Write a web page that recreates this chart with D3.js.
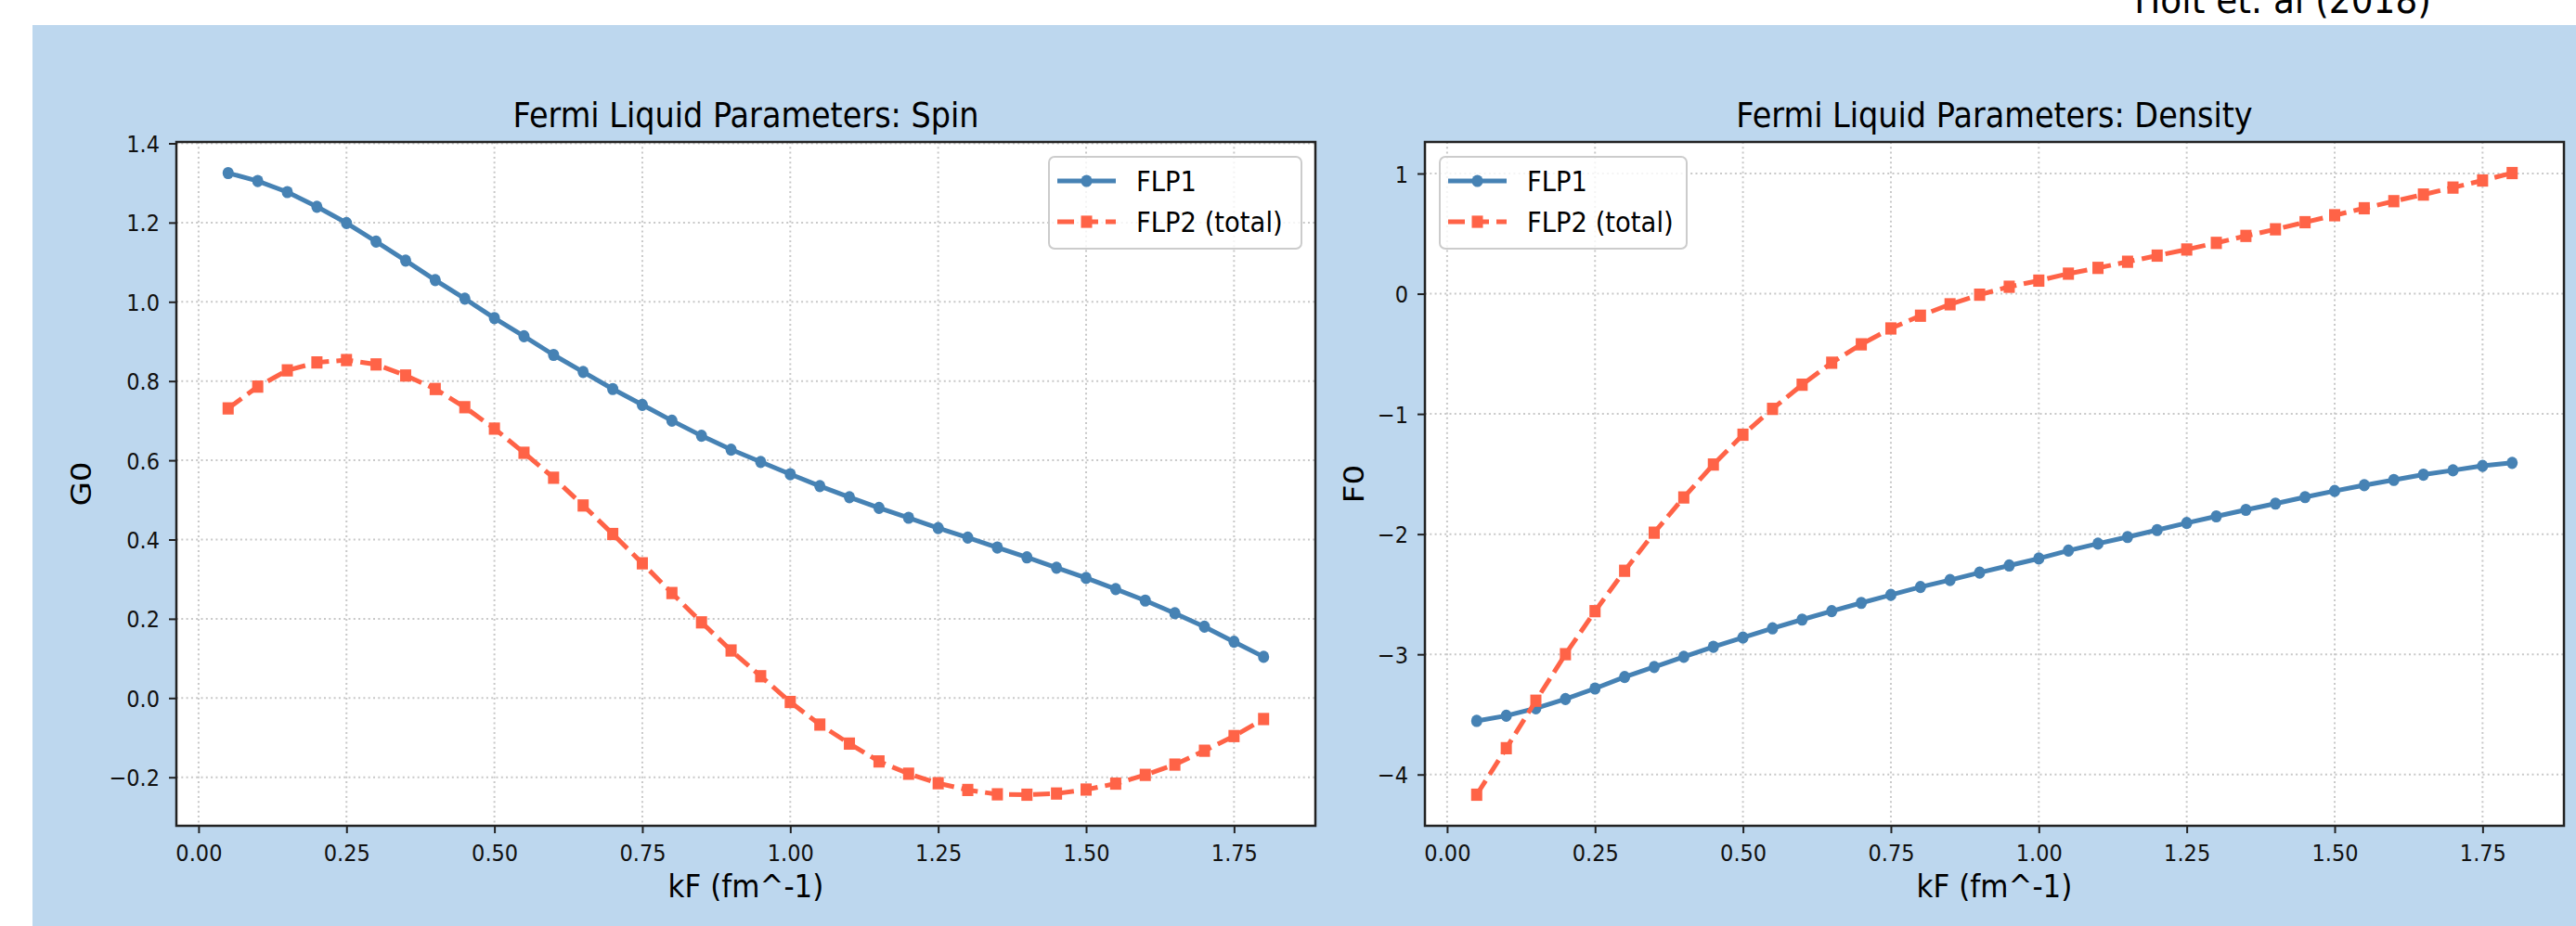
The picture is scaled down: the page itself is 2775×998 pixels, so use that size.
<!DOCTYPE html>
<html>
<head>
<meta charset="utf-8">
<script src="https://cdn.jsdelivr.net/npm/d3@7"></script>
<style>
  body { margin: 0; background: #fff; }
  svg { display: block; font-family: 'DejaVu Sans', sans-serif; }
</style>
</head>
<body>
<div id="chart"></div>
<script>
/* global d3 */

// kF grid (fm^-1)
const kF = [0.05, 0.10, 0.15, 0.20, 0.25, 0.30, 0.35, 0.40, 0.45, 0.50,
  0.55, 0.60, 0.65, 0.70, 0.75, 0.80, 0.85, 0.90, 0.95, 1.00,
  1.05, 1.10, 1.15, 1.20, 1.25, 1.30, 1.35, 1.40, 1.45, 1.50,
  1.55, 1.60, 1.65, 1.70, 1.75, 1.80]

// Spin channel G0
const spinFLP1 = [1.325, 1.305, 1.277, 1.240, 1.199, 1.152, 1.104, 1.055, 1.008, 0.959,
  0.913, 0.866, 0.823, 0.780, 0.740, 0.700, 0.662, 0.627, 0.596, 0.565,
  0.535, 0.507, 0.480, 0.455, 0.429, 0.405, 0.380, 0.355, 0.329, 0.303,
  0.275, 0.246, 0.214, 0.180, 0.142, 0.104]
const spinFLP2 = [0.731, 0.786, 0.827, 0.847, 0.853, 0.842, 0.814, 0.780, 0.734, 0.680,
  0.619, 0.556, 0.486, 0.414, 0.340, 0.265, 0.191, 0.120, 0.055, -0.010,
  -0.067, -0.115, -0.160, -0.191, -0.215, -0.232, -0.243, -0.244, -0.241, -0.231,
  -0.216, -0.194, -0.168, -0.133, -0.096, -0.053]

// Density channel F0
const densFLP1 = [-3.554, -3.511, -3.449, -3.372, -3.284, -3.189, -3.105, -3.021, -2.937, -2.861,
  -2.784, -2.711, -2.641, -2.572, -2.506, -2.440, -2.382, -2.320, -2.261, -2.203,
  -2.137, -2.079, -2.024, -1.966, -1.907, -1.852, -1.798, -1.746, -1.692, -1.641,
  -1.593, -1.549, -1.505, -1.469, -1.432, -1.407]
const densFLP2 = [-4.168, -3.781, -3.386, -2.999, -2.641, -2.305, -1.988, -1.695, -1.421, -1.173,
  -0.958, -0.757, -0.574, -0.421, -0.289, -0.183, -0.088, -0.008, 0.058, 0.109,
  0.167, 0.215, 0.266, 0.317, 0.368, 0.423, 0.481, 0.536, 0.595, 0.653,
  0.711, 0.770, 0.825, 0.883, 0.942, 1.004]

// tick labels
const xTicks = [0, 0.25, 0.5, 0.75, 1, 1.25, 1.5, 1.75]
const spinTicks = [-0.2, 0, 0.2, 0.4, 0.6, 0.8, 1.0, 1.2, 1.4]
const densTicks = [-4, -3, -2, -1, 0, 1]
const seriesNames = ['FLP1', 'FLP2 (total)']

// Our canvas
const width = 2775,
  height = 998
const plotTop = 153,
  plotBottom = 890,
  plotW = 1227
const sy = 1.1 // the picture is slightly stretched vertically

const blue = '#4682b4',
  red = '#ff6347'
const lineW = 5,
  dash = '18,8',
  mr = 6

let svg = d3.select('#chart')
  .append('svg')
  .attr('width', width)
  .attr('height', height)

svg.append('rect')
  .attr('x', 35).attr('y', 27)
  .attr('width', width - 35).attr('height', height - 27)
  .attr('fill', '#bdd7ee')

svg.append('text')
  .attr('transform', `translate(2459,14) scale(1,${sy})`)
  .attr('text-anchor', 'middle')
  .style('font-size', '37.5px')
  .text('Holt et. al (2018)')

const panels = [
  { title: 'Fermi Liquid Parameters: Spin', ylabel: 'G0', left: 190, a: spinFLP1, b: spinFLP2,
    yTicks: spinTicks, fmt: d3.format('.1f'), legend: 'right', labelX: 87 },
  { title: 'Fermi Liquid Parameters: Density', ylabel: 'F0', left: 1535, a: densFLP1, b: densFLP2,
    yTicks: densTicks, fmt: d3.format('d'), legend: 'left', labelX: 1458 }
]

// matplotlib-ish 5% margins
const padded = (ext) => {
  const p = (ext[1] - ext[0]) * 0.05
  return [ext[0] - p, ext[1] + p]
}

let drawPanel = (p) => {
  const x = d3.scaleLinear()
    .domain(padded(d3.extent(kF)))
    .range([p.left, p.left + plotW])
  const y = d3.scaleLinear()
    .domain(padded(d3.extent(p.a.concat(p.b))))
    .range([plotBottom, plotTop])

  const g = svg.append('g')

  g.append('rect')
    .attr('x', p.left).attr('y', plotTop)
    .attr('width', plotW).attr('height', plotBottom - plotTop)
    .attr('fill', '#fff')

  // grid
  g.selectAll('.vgrid')
    .data(xTicks)
    .enter()
    .append('line')
    .attr('x1', d => x(d)).attr('x2', d => x(d))
    .attr('y1', plotTop).attr('y2', plotBottom)
    .attr('stroke', '#c8c8c8').attr('stroke-width', 2)
    .attr('stroke-dasharray', '2,3.3')
  g.selectAll('.hgrid')
    .data(p.yTicks)
    .enter()
    .append('line')
    .attr('x1', p.left).attr('x2', p.left + plotW)
    .attr('y1', d => y(d)).attr('y2', d => y(d))
    .attr('stroke', '#c8c8c8').attr('stroke-width', 2)
    .attr('stroke-dasharray', '2,3.3')

  const line = d3.line()
    .x((d, i) => x(kF[i]))
    .y(d => y(d))

  g.append('path')
    .datum(p.a)
    .attr('d', line)
    .attr('fill', 'none').attr('stroke', blue).attr('stroke-width', lineW)
    .attr('stroke-linejoin', 'round')
  g.selectAll('.dotA')
    .data(p.a)
    .enter()
    .append('ellipse')
    .attr('cx', (d, i) => x(kF[i])).attr('cy', d => y(d))
    .attr('rx', mr).attr('ry', mr * sy)
    .attr('fill', blue)

  g.append('path')
    .datum(p.b)
    .attr('d', line)
    .attr('fill', 'none').attr('stroke', red).attr('stroke-width', lineW)
    .attr('stroke-dasharray', dash)
  g.selectAll('.dotB')
    .data(p.b)
    .enter()
    .append('rect')
    .attr('x', (d, i) => x(kF[i]) - mr).attr('y', d => y(d) - mr * sy)
    .attr('width', mr * 2).attr('height', mr * 2 * sy)
    .attr('fill', red)

  // spines
  g.append('rect')
    .attr('x', p.left).attr('y', plotTop)
    .attr('width', plotW).attr('height', plotBottom - plotTop)
    .attr('fill', 'none').attr('stroke', '#222').attr('stroke-width', 2.5)

  // axes
  const xAxis = d3.axisBottom(x)
    .tickValues(xTicks)
    .tickFormat(d3.format('.2f'))
    .tickSize(8)
  const gx = g.append('g')
    .attr('transform', `translate(0, ${plotBottom})`)
    .call(xAxis)
  gx.select('.domain').remove()
  gx.selectAll('.tick line').attr('stroke', '#222').attr('stroke-width', 2)
  gx.selectAll('.tick text')
    .attr('y', 0).attr('dy', 0)
    .attr('transform', `translate(0, 38) scale(1, ${sy})`)
    .attr('fill', '#111')
    .style('font-size', '22.5px')
    .style('font-family', 'DejaVu Sans')

  const yAxis = d3.axisLeft(y)
    .tickValues(p.yTicks)
    .tickFormat(p.fmt)
    .tickSize(8)
  const gy = g.append('g')
    .attr('transform', `translate(${p.left}, 0)`)
    .call(yAxis)
  gy.select('.domain').remove()
  gy.selectAll('.tick line').attr('stroke', '#222').attr('stroke-width', 2)
  gy.selectAll('.tick text')
    .attr('x', 0).attr('dy', 0)
    .attr('transform', `translate(-18, 9) scale(1, ${sy})`)
    .attr('fill', '#111')
    .style('font-size', '22.5px')
    .style('font-family', 'DejaVu Sans')

  // titles and labels
  const cx = p.left + plotW / 2
  g.append('text')
    .attr('transform', `translate(${cx}, 137) scale(1, ${sy})`)
    .attr('text-anchor', 'middle')
    .style('font-size', '33.5px')
    .text(p.title)
  g.append('text')
    .attr('transform', `translate(${cx}, 967) scale(1, ${sy})`)
    .attr('text-anchor', 'middle')
    .style('font-size', '31px')
    .text('kF (fm^-1)')
  g.append('text')
    .attr('transform', `translate(${p.labelX + 11}, ${(plotTop + plotBottom) / 2}) scale(1, ${sy}) rotate(-90)`)
    .attr('text-anchor', 'middle')
    .style('font-size', '31px')
    .text(p.ylabel)

  // legend
  const lw = p.legend === 'right' ? 272 : 266
  const lx = p.legend === 'right' ? p.left + plotW - 15 - lw : p.left + 16
  const leg = g.append('g').attr('transform', `translate(${lx}, 169)`)
  leg.append('rect')
    .attr('width', lw).attr('height', 99).attr('rx', 6)
    .attr('fill', '#fff').attr('fill-opacity', 0.8)
    .attr('stroke', '#cccccc').attr('stroke-width', 2)
  const rows = [26, 70]
  seriesNames.forEach((name, i) => {
    const ry = rows[i]
    leg.append('line')
      .attr('x1', 9).attr('x2', 72).attr('y1', ry).attr('y2', ry)
      .attr('stroke', i === 0 ? blue : red).attr('stroke-width', lineW)
      .attr('stroke-dasharray', i === 0 ? null : dash)
    if (i === 0) {
      leg.append('ellipse')
        .attr('cx', 40.5).attr('cy', ry).attr('rx', mr).attr('ry', mr * sy)
        .attr('fill', blue)
    } else {
      leg.append('rect')
        .attr('x', 40.5 - mr).attr('y', ry - mr * sy).attr('width', mr * 2).attr('height', mr * 2 * sy)
        .attr('fill', red)
    }
    leg.append('text')
      .attr('transform', `translate(94, ${ry + 11}) scale(1, ${sy})`)
      .style('font-size', '27.4px')
      .text(name)
  })
}

panels.forEach(drawPanel)
</script>
</body>
</html>
